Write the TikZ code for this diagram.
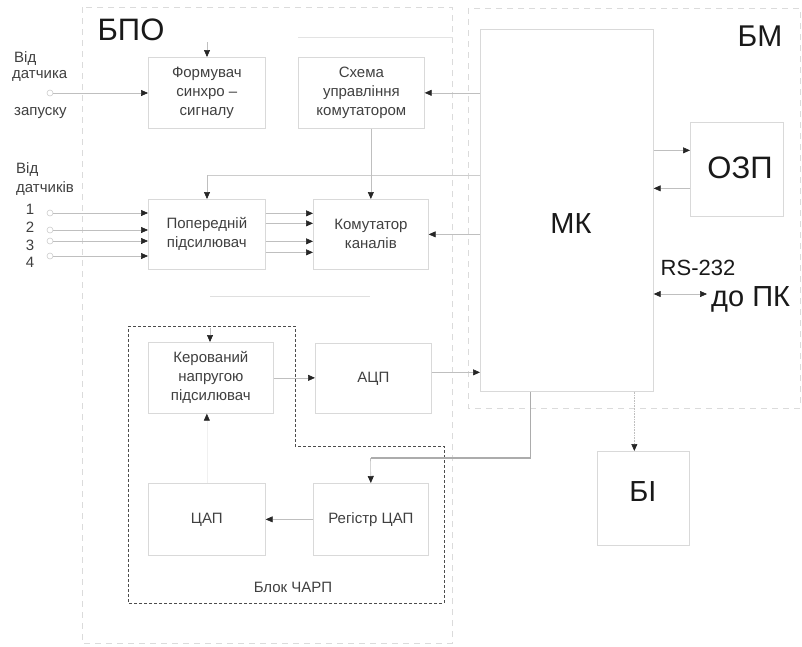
\documentclass[tikz,border=0pt]{standalone}
\usepackage{fontspec}
\setmainfont{Liberation Sans}
\usetikzlibrary{arrows.meta,calc}
\begin{document}
\begin{tikzpicture}[x=1pt,y=-1pt,
  blk/.style={draw=gray!30, line width=0.7pt, inner sep=0pt, anchor=north west, align=center, text=black!75, font=\fontsize{15}{19}\selectfont},
  big/.style={font=\fontsize{31}{36}\selectfont, text=black!90, inner sep=0pt},
  lbl/.style={font=\fontsize{15}{19}\selectfont, text=black!75, inner sep=0pt},
  arr/.style={draw=gray!50, line width=0.6pt, -{Triangle[length=7pt,width=6pt,color=black!85]}},
  dbl/.style={draw=gray!50, line width=0.6pt, {Triangle[length=7pt,width=6pt,color=black!85]}-{Triangle[length=7pt,width=6pt,color=black!85]}},
  ln/.style={draw=gray!40, line width=0.6pt},
  pin/.style={circle, draw=gray!40, line width=0.6pt, minimum size=6pt, inner sep=0pt},
  outer/.style={draw=gray!28, line width=0.8pt, dash pattern=on 6pt off 5pt},
  charp/.style={draw=black!70, line width=1pt, dash pattern=on 3pt off 2pt},
  bus/.style={draw=gray!65, line width=1.3pt}
]
\useasboundingbox (0,0) rectangle (802,646);
\fill[white] (0,0) rectangle (802,646);

% outer blocks
\draw[outer] (82,7) rectangle (452,643);
\draw[outer] (468,8) rectangle (800,408);
\draw[charp] (128,326) -- (295,326) -- (295,446) -- (444,446) -- (444,603) -- (128,603) -- cycle;

% boxes
\node[blk, minimum width=117pt, minimum height=71pt] (form) at (148,57) {Формувач\\синхро –\\сигналу};
\node[blk, minimum width=126pt, minimum height=71pt] (skh) at (298,57) {Схема\\управління\\комутатором};
\node[blk, minimum width=117pt, minimum height=70pt] (pp) at (148,199) {Попередній\\підсилювач};
\node[blk, minimum width=115pt, minimum height=70pt] (kom) at (313,199) {Комутатор\\каналів};
\node[blk, minimum width=125pt, minimum height=71pt] (ker) at (148,342) {Керований\\напругою\\підсилювач};
\node[blk, minimum width=116pt, minimum height=70pt] (adc) at (315,343) {АЦП};
\node[blk, minimum width=117pt, minimum height=72pt] (dac) at (148,483) {ЦАП};
\node[blk, minimum width=115pt, minimum height=72pt] (reg) at (313,483) {Регістр ЦАП};
\node[blk, minimum width=173pt, minimum height=362pt] (mk) at (480,29) {};
\node[blk, minimum width=93pt, minimum height=94pt] (ozp) at (690,122) {};
\node[blk, minimum width=92pt, minimum height=94pt] (bi) at (597,451) {};

% big labels
\node[big] (bpo) at (131,30) {БПО};
\node[big, font=\fontsize{30}{36}\selectfont] (bm) at (760,36) {БМ};
\node[big, font=\fontsize{29}{36}\selectfont] (mkl) at (571,224) {МК};
\node[big] (ozpl) at (740,168) {ОЗП};
\node[big, font=\fontsize{29}{36}\selectfont] (bil) at (643,492) {БІ};
\node[big, font=\fontsize{22}{26}\selectfont] (rs) at (698,268) {RS-232};
\node[big, font=\fontsize{29}{34}\selectfont, anchor=west] (pk) at (711,299) {до ПК};
\node[lbl] (charpl) at (293,587) {Блок ЧАРП};

% left labels
\node[lbl, anchor=west] (v1) at (14,59) {Від};
\node[lbl, anchor=west] (d1) at (12,76) {датчика};
\node[lbl, anchor=west] (z1) at (14,113) {запуску};
\node[lbl, anchor=west] (v2) at (16,170) {Від};
\node[lbl, anchor=west] (d2) at (16,189) {датчиків};
\node[lbl] (n1) at (30,209) {1};
\node[lbl] (n2) at (30,227) {2};
\node[lbl] (n3) at (30,245) {3};
\node[lbl] (n4) at (30,262) {4};

% input pins
\node[pin] (c0) at (50,93) {};
\node[pin] (i1) at (50,213) {};
\node[pin] (i2) at (50,230) {};
\node[pin] (i3) at (50,241) {};
\node[pin] (i4) at (50,256) {};

\draw[arr] (c0) -- (c0 -| form.west);
\draw[arr] (i1) -- (i1 -| pp.west);
\draw[arr] (i2) -- (i2 -| pp.west);
\draw[arr] (i3) -- (i3 -| pp.west);
\draw[arr] (i4) -- (i4 -| pp.west);

% pre-amp to switch
\draw[arr] ([yshift=21pt]pp.east) -- ([yshift=21pt]pp.east -| kom.west);
\draw[arr] ([yshift=11pt]pp.east) -- ([yshift=11pt]pp.east -| kom.west);
\draw[arr] ([yshift=-7pt]pp.east) -- ([yshift=-7pt]pp.east -| kom.west);
\draw[arr] ([yshift=-18pt]pp.east) -- ([yshift=-18pt]pp.east -| kom.west);

% top control arrows
\coordinate (t1) at (207,42);
\draw[arr] (t1) -- (t1 |- form.north);
\coordinate (f1a) at (298,37);
\coordinate (f1b) at (453,37);
\draw[ln, draw=gray!22] (f1a) -- (f1b);
\coordinate (t2) at (207,175);
\draw[ln] (mk.west |- t2) -- (t2);
\draw[arr] (t2) -- (t2 |- pp.north);

\draw[arr] (mk.west |- skh.east) -- (skh.east);
\draw[arr] (kom.north |- skh.south) -- (kom.north);
\draw[arr] (mk.west |- kom.east) -- (kom.east);

\coordinate (g1) at (210,296);
\coordinate (g2) at (370,296);
\draw[ln, draw=gray!25] (g1) -- (g2);

% CHARP block
\coordinate (t3) at (210,328);
\draw[arr] (t3) -- (t3 |- ker.north);
\draw[arr, draw=gray!12] (dac.north) -- (dac.north |- ker.south);
\draw[arr] (ker.east) -- (ker.east -| adc.west);
\draw[arr] ([yshift=6pt]adc.east) -- ([yshift=6pt]adc.east -| mk.west);
\coordinate (rj) at (370.5,458);
\draw[bus] ([xshift=-36.5pt]mk.south) |- (rj);
\draw[arr] (rj) -- (reg.north);
\draw[arr] (reg.west) -- (dac.east);

% MK peripherals
\draw[arr] ([yshift=19pt]ozp.west -| mk.east) -- ([yshift=19pt]ozp.west);
\draw[arr] ([yshift=-19pt]ozp.west) -- ([yshift=-19pt]ozp.west -| mk.east);
\coordinate (pkt) at (707,294);
\draw[dbl] (mk.east |- pkt) -- (pkt);
\draw[arr, densely dotted] ([xshift=-9pt]bi.north |- mk.south) -- ([xshift=-9pt]bi.north);
\end{tikzpicture}
\end{document}
